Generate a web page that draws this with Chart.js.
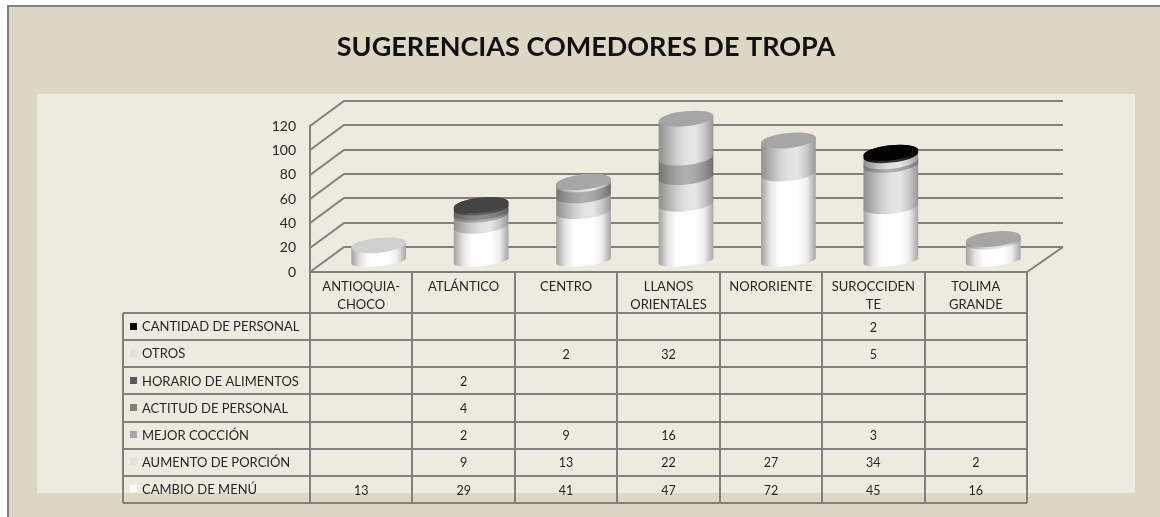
<!DOCTYPE html>
<html><head><meta charset="utf-8">
<style>html,body{margin:0;padding:0;background:#fff;overflow:hidden}canvas{display:block}</style>
<script src="https://cdn.jsdelivr.net/npm/chart.js@4/dist/chart.umd.js"></script>
</head><body><canvas id="c" width="1160" height="517"></canvas>
<script>
const titleText = 'SUGERENCIAS COMEDORES DE TROPA';
const categories = [['ANTIOQUIA-','CHOCO'],['ATLÁNTICO'],['CENTRO'],['LLANOS','ORIENTALES'],['NORORIENTE'],['SUROCCIDEN','TE'],['TOLIMA','GRANDE']];
const cambioMenu = [13,29,41,47,72,45,16];
const aumentoPorcion = [null,9,13,22,27,34,2];
const mejorCoccion = [null,2,9,16,null,3,null];
const actitudPersonal = [null,4,null,null,null,null,null];
const horarioAlimentos = [null,2,null,null,null,null,null];
const otros = [null,null,2,32,null,5,null];
const cantidadPersonal = [null,null,null,null,null,2,null];
const yTicks = [0,20,40,60,80,100,120];

const FONT = 'Lato, Carlito, sans-serif';
const GRID = '#808080', TEXT = '#262626';
const LIGHT = ['#8e8e8e','#b0b0b0','#cfcfcf','#e2e2e2','#e6e6e6','#c8c8c8','#969696'];
// [label, values, swatch, gradient stops, top-face colour], bottom of the stack first
const seriesDefs = [
  ['CAMBIO DE MENÚ', cambioMenu, '#ffffff', ['#a0a0a0','#e4e4e4','#ffffff','#ffffff','#ffffff','#eeeeee','#a4a4a4'], '#d0d0d0'],
  ['AUMENTO DE PORCIÓN', aumentoPorcion, '#e0e0e0', LIGHT, '#a6a6a6'],
  ['MEJOR COCCIÓN', mejorCoccion, '#a6a6a6', ['#747474','#8e8e8e','#a4a4a4','#b0b0b0','#a8a8a8','#929292','#707070'], '#a8a8a8'],
  ['ACTITUD DE PERSONAL', actitudPersonal, '#808080', ['#5c5c5c','#747474','#868686','#8e8e8e','#868686','#747474','#5c5c5c'], '#6e6e6e'],
  ['HORARIO DE ALIMENTOS', horarioAlimentos, '#595959', ['#3c3c3c','#4a4a4a','#5a5a5a','#626262','#5a5a5a','#4a4a4a','#3c3c3c'], '#444444'],
  ['OTROS', otros, '#e0e0e0', LIGHT, '#a6a6a6'],
  ['CANTIDAD DE PERSONAL', cantidadPersonal, '#000000', ['#000000','#1a1a1a','#333333','#3c3c3c','#333333','#1a1a1a','#000000'], '#000000']
];

const DX = 17.5, DY = -11, BACK_X = 34, BACK_Y = -25, TILT = -6*Math.PI/180, MINOR = 7.5, BASE_MINOR = 5;
const TABLE_LEFT = 123, TABLE_TOP = 313, ROW_H = 27.15, KEY_X = 130, LABEL_X = 142;

const cylinders = {
  id:'cylinders',
  beforeDatasetsDraw(chart){
    const ctx = chart.ctx;
    seriesDefs.forEach((def, index) => {
      chart.getDatasetMeta(index).data.forEach((bar, i) => {
        if (def[1][i] == null) return;
        const p = bar.getProps(['x','y','base','width'], true);
        const cx = p.x + DX, a = p.width/2, yT = p.y + DY, yB = p.base + DY;
        const g = ctx.createLinearGradient(cx-a, 0, cx+a, 0);
        def[3].forEach((c, k) => g.addColorStop(k/(def[3].length-1), c));
        ctx.save();
        ctx.beginPath();
        ctx.ellipse(cx, yT, a, MINOR, TILT, Math.PI, 0);
        ctx.ellipse(cx, yB, a, index === 0 ? BASE_MINOR : MINOR, TILT, 0, Math.PI);
        ctx.closePath();
        ctx.fillStyle = g; ctx.fill();
        const isTop = !seriesDefs.slice(index+1).some(s => s[1][i] != null);
        if (isTop) {
          ctx.beginPath();
          ctx.ellipse(cx, yT, a, MINOR, TILT, 0, 2*Math.PI);
          ctx.fillStyle = def[4]; ctx.fill();
        }
        ctx.restore();
      });
    });
  },
  beforeDatasetDraw(){ return false; }
};

const frame = {
  id:'frame',
  beforeDraw(chart){
    const c = chart.ctx, {y} = chart.scales;
    c.save();
    c.fillStyle = '#ddd8c3'; c.fillRect(8,6,1152,511);
    c.fillStyle = GRID; c.fillRect(7,5,1153,2); c.fillRect(7,5,2,512);
    c.fillStyle = '#edebe0'; c.fillRect(37,94,1098,399);
    c.strokeStyle = GRID; c.lineWidth = 2;
    const L = chart.chartArea.left, R = chart.chartArea.right;
    c.beginPath();
    yTicks.forEach(v => {
      const py = Math.round(y.getPixelForValue(v));
      c.moveTo(L, py); c.lineTo(L+BACK_X, py+BACK_Y);
      c.lineTo(R+BACK_X+2, py+BACK_Y);
    });
    const py0 = y.getPixelForValue(0);
    c.moveTo(R, py0); c.lineTo(R+BACK_X+2, py0+BACK_Y);
    c.stroke();
    c.restore();
  },
  afterDraw(chart){
    const c = chart.ctx, {x} = chart.scales, n = categories.length;
    const L = chart.chartArea.left, R = chart.chartArea.right, cw = (R-L)/n;
    const top = chart.chartArea.bottom;
    const rows = seriesDefs.slice().reverse();
    const bottom = TABLE_TOP + ROW_H*rows.length;
    c.save();
    c.strokeStyle = GRID; c.lineWidth = 2;
    c.beginPath();
    c.moveTo(L, top); c.lineTo(R, top);
    for (let k=0;k<=n;k++){ const px = Math.round(L+k*cw); c.moveTo(px, top); c.lineTo(px, bottom); }
    rows.forEach((r,k) => { const py = Math.round(TABLE_TOP+k*ROW_H); c.moveTo(TABLE_LEFT, py); c.lineTo(R, py); });
    c.moveTo(TABLE_LEFT, bottom); c.lineTo(R, bottom);
    c.moveTo(TABLE_LEFT, TABLE_TOP); c.lineTo(TABLE_LEFT, bottom);
    c.stroke();
    c.textBaseline = 'middle';
    rows.forEach((r,k) => {
      const my = TABLE_TOP + (k+0.5)*ROW_H;
      c.fillStyle = r[2]; c.fillRect(KEY_X, Math.round(my-4), 7, 7);
      c.fillStyle = TEXT; c.textAlign = 'left'; c.font = '13px '+FONT; c.fillText(r[0], LABEL_X, my+0.5);
      c.textAlign = 'center'; c.font = '12.5px '+FONT;
      r[1].forEach((v,i) => { if (v != null) c.fillText(String(v), x.getPixelForValue(i), my+1); });
    });
    c.restore();
  }
};

new Chart(document.getElementById('c'), {
  type:'bar',
  data:{ labels:categories, datasets:seriesDefs.map(s => ({
    label:s[0], data:s[1], backgroundColor:s[2], stack:'a',
    barPercentage:0.537, categoryPercentage:1, clip:false
  })) },
  plugins:[frame, cylinders],
  options:{
    responsive:false, animation:false, events:[],
    layout:{padding:{left:12,right:0,top:0,bottom:0}},
    plugins:{
      legend:{display:false}, tooltip:{enabled:false},
      title:{display:true, text:titleText, color:'#111', font:{family:FONT, size:27, weight:'bold', lineHeight:1.2}, padding:{top:30.8, bottom:62.8}}
    },
    scales:{
      x:{ stacked:true, grid:{display:false, drawTicks:false}, border:{display:false},
          ticks:{color:TEXT, font:{family:FONT,size:13,lineHeight:1.4}, maxRotation:0, minRotation:0, autoSkip:false, padding:6},
          afterFit(s){ s.height = 245; } },
      y:{ stacked:true, min:0, max:120, grid:{display:false, drawTicks:false}, border:{display:true,color:GRID,width:2},
          afterBuildTicks(s){ s.ticks = yTicks.map(v => ({value:v})); },
          ticks:{color:TEXT, font:{family:FONT,size:14}, padding:14},
          afterFit(s){ s.width = 298; } },
      yEnd:{ position:'right', grid:{display:false, drawTicks:false}, border:{display:false}, ticks:{display:false},
          afterFit(s){ s.width = 133; } }
    }
  }
});
</script></body></html>
